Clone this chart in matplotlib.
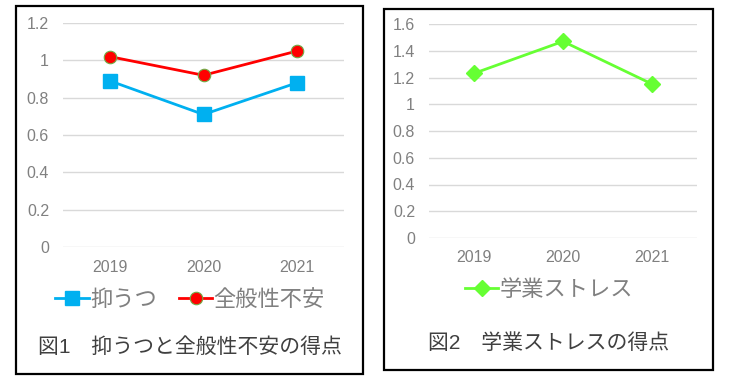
import matplotlib
matplotlib.use("Agg")
import matplotlib.pyplot as plt
from matplotlib.patches import Rectangle

plt.rcParams['font.family'] = ['Liberation Sans', 'Noto Sans CJK JP']

years = ["2019", "2020", "2021"]
depression = [0.89, 0.71, 0.88]
anxiety = [1.02, 0.92, 1.05]
academic_stress = [1.23, 1.47, 1.15]

left_yticks = [0, 0.2, 0.4, 0.6, 0.8, 1.0, 1.2]
left_ylabels = ["0", "0.2", "0.4", "0.6", "0.8", "1", "1.2"]
right_yticks = [0, 0.2, 0.4, 0.6, 0.8, 1.0, 1.2, 1.4, 1.6]
right_ylabels = ["0", "0.2", "0.4", "0.6", "0.8", "1", "1.2", "1.4", "1.6"]

W, H = 737, 381
GRAY = "#808080"


def px_axes(fig, x0, x1, ytop, ybot):
    return fig.add_axes([x0 / W, (H - ybot) / H, (x1 - x0) / W, (ybot - ytop) / H])


def style(ax, ticks, labels):
    ax.set_xlim(-0.5, 2.5)
    ax.set_ylim(ticks[0], ticks[-1])
    ax.set_yticks(ticks)
    ax.set_yticklabels(labels)
    ax.set_xticks(range(len(years)))
    ax.set_xticklabels(years)
    for s in ax.spines.values():
        s.set_visible(False)
    ax.grid(axis="y", color="#d9d9d9", lw=1)
    ax.set_axisbelow(True)
    ax.tick_params(axis="y", length=0, pad=10, labelsize=11.5, labelcolor=GRAY)
    ax.tick_params(axis="x", length=0, pad=9, labelsize=11.5, labelcolor=GRAY)


fig = plt.figure(figsize=(W / 100, H / 100), dpi=100)

# left chart
ax1 = px_axes(fig, 63, 344, 23, 247)
x = range(len(years))
ax1.plot(x, depression, color="#00B0F0", lw=2, marker="s", ms=10,
         mfc="#00B0F0", mec="#00B0F0", label="抑うつ", zorder=3)
ax1.plot(x, anxiety, color="#FF0000", lw=2, marker="o", ms=9,
         mfc="#FF0000", mec="#70AD47", mew=0.8, label="全般性不安", zorder=3)
style(ax1, left_yticks, left_ylabels)
ax1.legend(loc="center", bbox_to_anchor=(190 / W, (H - 300) / H),
           bbox_transform=fig.transFigure, ncol=2, frameon=False,
           fontsize=16, labelcolor=GRAY, handlelength=1.5, handletextpad=0.05,
           columnspacing=1.0)
fig.text(38 / W, (H - 347) / H, "図1\u3000抑うつと全般性不安の得点", fontsize=15,
         color="#404040", ha="left", va="center")
fig.patches.append(Rectangle((16 / W, (H - 374) / H), 347 / W, 368 / H,
                             transform=fig.transFigure, fill=False,
                             ec="black", lw=1.6))

# right chart
ax2 = px_axes(fig, 429, 697, 24, 238)
ax2.plot(x, academic_stress, color="#66FF33", lw=2, marker="D", ms=8,
         mfc="#66FF33", mec="#66FF33", label="学業ストレス", zorder=3)
style(ax2, right_yticks, right_ylabels)
ax2.legend(loc="center", bbox_to_anchor=(549 / W, (H - 290) / H),
           bbox_transform=fig.transFigure, frameon=False,
           fontsize=16, labelcolor=GRAY, handlelength=1.5, handletextpad=0.05)
fig.text(549 / W, (H - 343) / H, "図2\u3000学業ストレスの得点", fontsize=15,
         color="#404040", ha="center", va="center")
fig.patches.append(Rectangle((384 / W, (H - 370) / H), 329 / W, 361 / H,
                             transform=fig.transFigure, fill=False,
                             ec="black", lw=1.6))

fig.savefig("out.png", dpi=100)
